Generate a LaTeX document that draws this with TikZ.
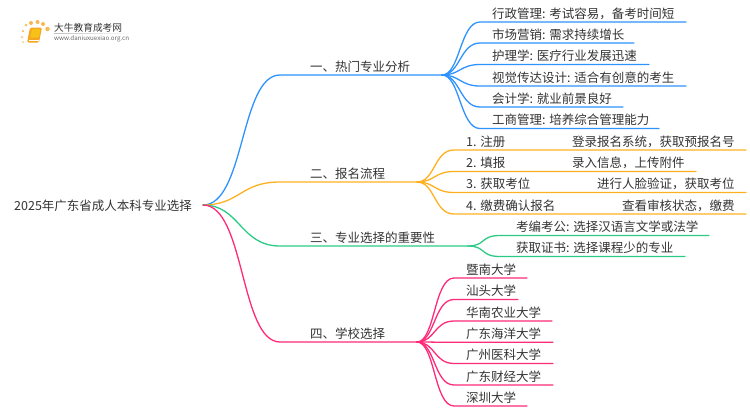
\documentclass[tikz,border=0pt]{standalone}
\usepackage{fontspec}
\setmainfont{Noto Sans CJK SC}
\usetikzlibrary{calc}
\definecolor{cblue}{HTML}{2E93FF}
\definecolor{corange}{HTML}{FFB020}
\definecolor{cgreen}{HTML}{2CCB85}
\definecolor{cpink}{HTML}{FF2A78}
\definecolor{ctext}{HTML}{333333}
\definecolor{cbook}{HTML}{F5A623}
\tikzset{
  txt/.style={anchor=base west,inner sep=0pt,text=ctext,font=\fontsize{12.5}{14}\selectfont},
  conn/.style={line width=1.3pt,line cap=round},
  sun/.style={circle,fill=#1,inner sep=0pt,minimum size=4pt}
}
% #1 hub, #2 colour, #3 y of line, #4 x start of straight part, #5 x end, #6 name
\newcommand{\leafline}[6]{%
  \coordinate (#6a) at (#4,#3);
  \coordinate (#6b) at (#5,#3);
  \draw[conn,#2] (#1) .. controls ($(#1)+(18,0)$) and ($(#6a)+(-20,0)$) .. (#6a) -- (#6b);
}
\begin{document}
\begin{tikzpicture}[x=1pt,y=-1pt]
\useasboundingbox (0,0) rectangle (750,410);
% root
\node[txt] (root) at (14,210) {2025年广东省成人本科专业选择};
\coordinate (r) at (203,205);
% main branches
\coordinate (h1) at (442,75);
\coordinate (h2) at (417,182);
\coordinate (h3) at (468,246);
\coordinate (h4) at (417,342);
\coordinate (s1) at (280,75);
\coordinate (s2) at (280,182);
\coordinate (s3) at (280,246);
\coordinate (s4) at (280,342);
\draw[conn,cblue] (r) .. controls (245,205) and (240,75) .. (s1) -- (h1);
\draw[conn,corange] (r) .. controls (240,205) and (240,182) .. (s2) -- (h2);
\draw[conn,cgreen] (r) .. controls (240,205) and (240,246) .. (s3) -- (h3);
\draw[conn,cpink] (r) .. controls (245,205) and (240,342) .. (s4) -- (h4);
\node[txt] (n1) at (310,71) {一、热门专业分析};
\node[txt] (n2) at (310,178) {二、报名流程};
\node[txt] (n3) at (310,242) {三、专业选择的重要性};
\node[txt] (n4) at (310,338) {四、学校选择};
% branch 1
\leafline{h1}{cblue}{22}{480}{686}{a1}
\leafline{h1}{cblue}{43}{480}{634}{a2}
\leafline{h1}{cblue}{64.5}{480}{649}{a3}
\leafline{h1}{cblue}{86}{480}{686}{a4}
\leafline{h1}{cblue}{107}{480}{623}{a5}
\leafline{h1}{cblue}{128.5}{480}{659}{a6}
\node[txt] (ta1) at (492,18) {行政管理: 考试容易，备考时间短};
\node[txt] (ta2) at (492,39) {市场营销: 需求持续增长};
\node[txt] (ta3) at (492,60.5) {护理学: 医疗行业发展迅速};
\node[txt] (ta4) at (492,82) {视觉传达设计: 适合有创意的考生};
\node[txt] (ta5) at (492,103) {会计学: 就业前景良好};
\node[txt] (ta6) at (492,124.5) {工商管理: 培养综合管理能力};
% branch 2
\leafline{h2}{corange}{150}{454}{746}{b1}
\leafline{h2}{corange}{171.5}{454}{696}{b2}
\leafline{h2}{corange}{192.5}{454}{746}{b3}
\leafline{h2}{corange}{214}{454}{746}{b4}
\node[txt] (tb1) at (466,146) {1. 注册};
\node[txt] (tb2) at (466,167.5) {2. 填报};
\node[txt] (tb3) at (466,188.5) {3. 获取考位};
\node[txt] (tb4) at (466,210) {4. 缴费确认报名};
\node[txt] (db1) at (572,146) {登录报名系统，获取预报名号};
\node[txt] (db2) at (572,167.5) {录入信息，上传附件};
\node[txt] (db3) at (597,188.5) {进行人脸验证，获取考位};
\node[txt] (db4) at (622,210) {查看审核状态，缴费};
% branch 3
\leafline{h3}{cgreen}{235.5}{500}{709}{c1}
\leafline{h3}{cgreen}{256.5}{500}{685}{c2}
\node[txt] (tc1) at (516,231.5) {考编考公: 选择汉语言文学或法学};
\node[txt] (tc2) at (516,252.5) {获取证书: 选择课程少的专业};
% branch 4
\leafline{h4}{cpink}{278}{454}{527}{d1}
\leafline{h4}{cpink}{299.5}{454}{518}{d2}
\leafline{h4}{cpink}{321}{454}{552}{d3}
\leafline{h4}{cpink}{342.3}{454}{553}{d4}
\leafline{h4}{cpink}{363.5}{454}{553}{d5}
\leafline{h4}{cpink}{385}{454}{553}{d6}
\leafline{h4}{cpink}{406}{454}{527}{d7}
\node[txt] (td1) at (466,274) {暨南大学};
\node[txt] (td2) at (466,295.5) {汕头大学};
\node[txt] (td3) at (466,317) {华南农业大学};
\node[txt] (td4) at (466,338) {广东海洋大学};
\node[txt] (td5) at (466,359.5) {广州医科大学};
\node[txt] (td6) at (466,381) {广东财经大学};
\node[txt] (td7) at (466,402) {深圳大学};
% logo
\fill[cbook,rounded corners=1.5pt] (30,27.5) -- (42,27.5) -- (39,42.5) -- (27,42.5) -- cycle;
\fill[cbook!70!yellow,rounded corners=1pt] (32,29) -- (40.5,29) -- (38.8,37.5) -- (30.3,37.5) -- cycle;
\draw[white,line width=.6pt] (29,39.8) -- (38.5,39.8);
\node[sun=cbook!60,minimum size=2pt] (l0) at (23,42) {};
\node[sun=cbook!60,minimum size=2.5pt] (l8) at (22,37) {};
\node[sun=cbook!70,minimum size=2.5pt] (l2) at (23,31) {};
\node[sun=cbook!70,minimum size=3pt] (l3) at (26,25) {};
\node[sun=cbook!80,minimum size=4pt] (l4) at (31,23) {};
\node[sun=cbook!80,minimum size=4pt] (l5) at (37.5,22) {};
\node[sun=cbook!80,minimum size=4pt] (l6) at (43,24) {};
\node[sun=cbook!80,minimum size=4.5pt] (l7) at (47.5,29) {};
\node[anchor=base west,inner sep=0pt,text=ctext,font=\fontsize{9.7}{11}\selectfont] (lt) at (54,31) {大牛教育成考网};
\node[anchor=base west,inner sep=0pt,text=black!60,font=\fontsize{6.2}{7}\selectfont] (lu) at (54,40.5) {www.daniuxuexiao.org.cn};
\shade[left color=black!25,right color=white] (54,33.3) rectangle (132,33.8);
\end{tikzpicture}
\end{document}
